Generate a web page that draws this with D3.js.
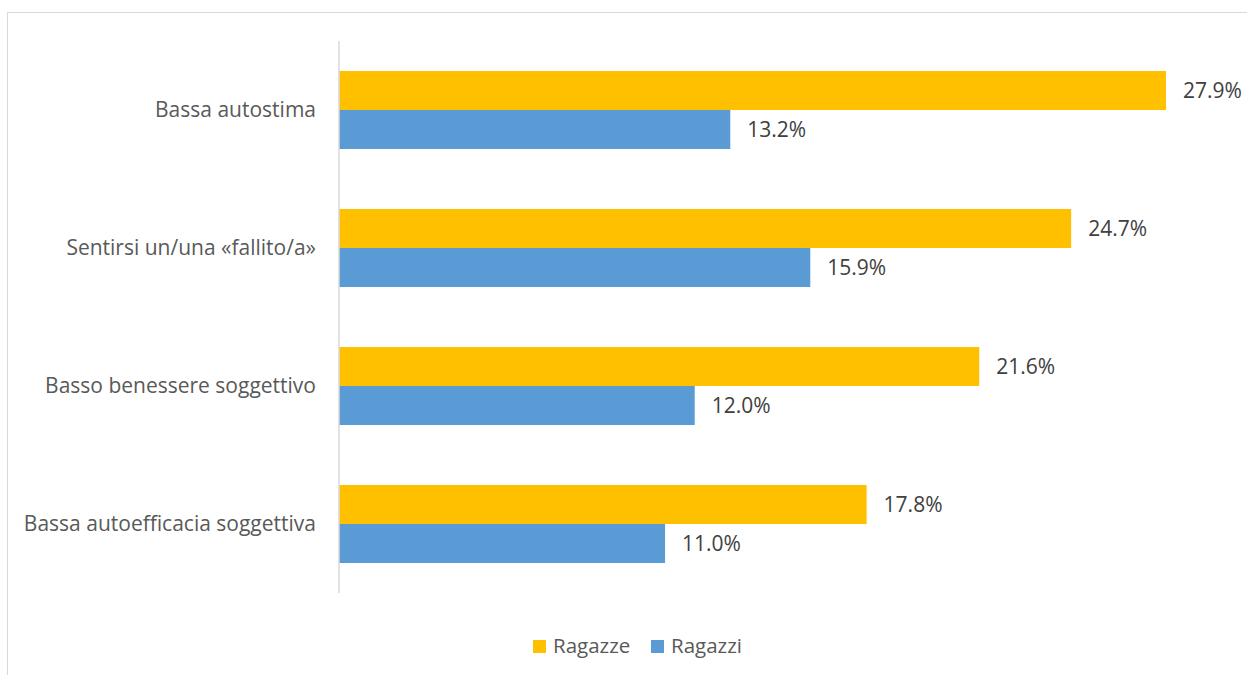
<!DOCTYPE html>
<html>
<head>
<meta charset="utf-8">
<script src="https://cdn.jsdelivr.net/npm/d3@7"></script>
<style>
  html, body { margin: 0; padding: 0; background: #fff; }
  svg { display: block; }
</style>
</head>
<body>
<svg id="chart" width="1247" height="675"></svg>
<script>
// Categories and series (percent values)
const categories = [
  "Bassa autostima",
  "Sentirsi un/una «fallito/a»",
  "Basso benessere soggettivo",
  "Bassa autoefficacia soggettiva"
];
const seriesNames = ["Ragazze", "Ragazzi"];
const ragazze = [27.9, 24.7, 21.6, 17.8];
const ragazzi = [13.2, 15.9, 12.0, 11.0];
const colors = ["#FFC000", "#5B9BD5"];

const rows = categories.map((c, i) => ({ cat: c, values: [ragazze[i], ragazzi[i]] }));

const svg = d3.select("#chart");
const font = "'Open Sans', 'Noto Sans', sans-serif";

// Outer chart frame
svg.append("rect")
  .attr("x", 7.5).attr("y", 12.5)
  .attr("width", 1260).attr("height", 700)
  .attr("fill", "none").attr("stroke", "#d9d9d9").attr("stroke-width", 1);

const plot = { left: 339, top: 41, bottom: 593 };

const x = d3.scaleLinear().domain([0, 30]).range([plot.left, plot.left + 30 * (827 / 27.9)]);
const y = d3.scaleBand().domain(categories).range([plot.top, plot.bottom]).paddingInner(0.435).paddingOuter(0.2175);
const sub = d3.scaleBand().domain(seriesNames).range([0, y.bandwidth()]);

const g = svg.append("g");

rows.forEach(r => {
  const grp = g.append("g").attr("transform", `translate(0,${y(r.cat)})`);
  grp.selectAll("rect")
    .data(r.values)
    .join("rect")
    .attr("x", x(0))
    .attr("y", (d, i) => sub(seriesNames[i]))
    .attr("width", d => x(d) - x(0))
    .attr("height", sub.bandwidth())
    .attr("fill", (d, i) => colors[i]);
  grp.selectAll("text.val")
    .data(r.values)
    .join("text")
    .attr("class", "val")
    .attr("x", d => x(d) + 17)
    .attr("y", (d, i) => sub(seriesNames[i]) + sub.bandwidth() / 2)
    .attr("dy", "0.35em")
    .attr("font-family", font)
    .attr("font-size", 21)
    .attr("fill", "#404040")
    .text(d => d.toFixed(1) + "%");
});

// Category axis
const yAxis = d3.axisLeft(y).tickSize(0).tickPadding(23);
const ax = svg.append("g").attr("transform", `translate(${plot.left},0)`).call(yAxis);
ax.select(".domain").remove();
ax.append("line")
  .attr("x1", 0).attr("x2", 0)
  .attr("y1", plot.top).attr("y2", plot.bottom)
  .attr("stroke", "#d9d9d9").attr("stroke-width", 1.5);
ax.selectAll(".tick text")
  .attr("font-family", font)
  .attr("font-size", 21)
  .attr("fill", "#595959");

// Legend
const legend = svg.append("g").attr("transform", "translate(533,646)");
const items = [{ name: seriesNames[0], x: 0 }, { name: seriesNames[1], x: 118 }];
items.forEach((it, i) => {
  legend.append("rect").attr("x", it.x).attr("y", -6).attr("width", 13).attr("height", 13).attr("fill", colors[i]);
  legend.append("text")
    .attr("x", it.x + 20).attr("y", 0).attr("dy", "0.35em")
    .attr("font-family", font).attr("font-size", 20.5).attr("fill", "#595959")
    .text(it.name);
});
</script>
</body>
</html>
